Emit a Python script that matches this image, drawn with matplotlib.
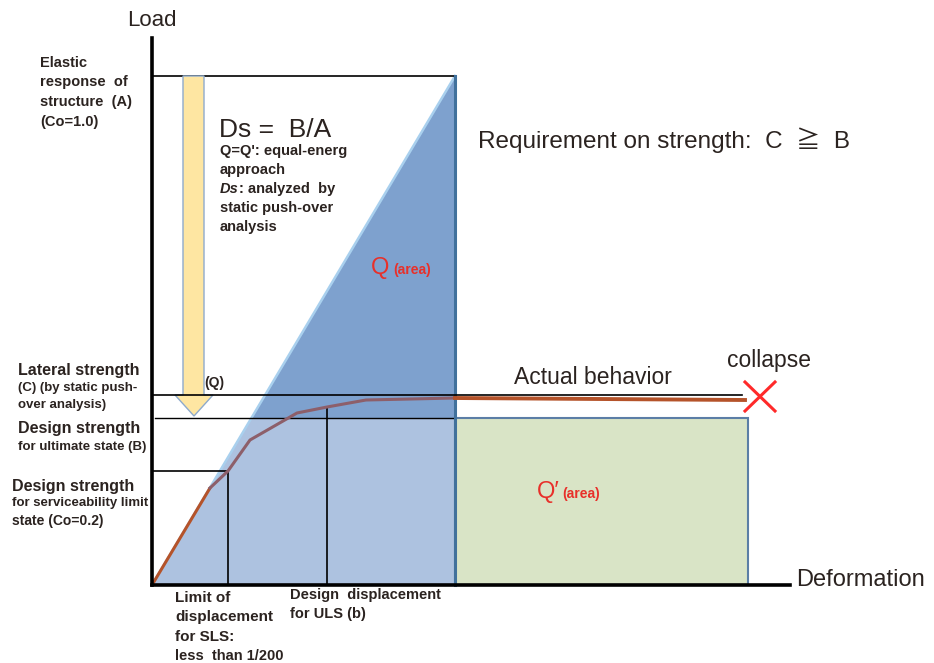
import matplotlib
matplotlib.use("Agg")
import matplotlib.pyplot as plt
from matplotlib.patches import Polygon, Rectangle

# ---- data (deformation / load units, origin at the axes corner) ----
load_A = 509          # elastic response (Co=1.0)
load_C = 190          # lateral strength by push-over
load_B = 167          # design strength for ultimate state
load_SLS = 114        # design strength for serviceability limit state
disp_elastic = 303    # deformation at elastic response A
disp_SLS = 76         # limit of displacement for SLS
disp_ULS = 175        # design displacement for ULS (b)
disp_green_end = 596  # end of Q' area
disp_collapse = 608
curve_disp = [0, 58, 76, 98, 145, 175, 214, 303]
curve_load = [0, 97, 114, 145, 172, 178, 185, 187]
plateau_disp = [303, 593]
plateau_load = [187, 185]
axis_x_end = 638
axis_y_end = 547

FONT = ['Liberation Sans', 'Noto Sans CJK JP', 'DejaVu Sans']
plt.rcParams['font.family'] = FONT

fig = plt.figure(figsize=(9.34, 6.63), dpi=100)
ax = fig.add_axes([0, 0, 1, 1])
ax.set_xlim(-152, 782)
ax.set_ylim(-78, 585)
ax.axis('off')

# Elastic triangle (dark blue)
tri = Polygon([(0, 0), (disp_elastic, load_A), (disp_elastic, 0)], closed=True,
              facecolor='#7ea1ce', edgecolor='none', zorder=1)
ax.add_patch(tri)
# light blue area below design strength B
x_at_B = disp_elastic * load_B / load_A
light = Polygon([(0, 0), (x_at_B, load_B), (disp_elastic, load_B), (disp_elastic, 0)],
                closed=True, facecolor='#adc2e0', edgecolor='none', zorder=2)
ax.add_patch(light)
# diagonal light edge
ax.plot([0, disp_elastic], [0, load_A], color='#a9d0ee', lw=1.8, zorder=3)
# box top and right edge
ax.plot([0, disp_elastic], [load_A, load_A], color='black', lw=1.2, zorder=3)
ax.plot([disp_elastic, disp_elastic], [0, load_A], color='#41719c', lw=2.2, zorder=4)

# Q' green area
green = Rectangle((disp_elastic, 0), disp_green_end - disp_elastic, load_B,
                  facecolor='#d9e4c6', edgecolor='#5b7ea6', lw=1.5, zorder=2)
ax.add_patch(green)

# horizontal reference lines
ax.plot([0, disp_collapse - 18], [load_C, load_C], color='black', lw=1.2, zorder=5)
ax.plot([3, disp_elastic], [load_B, load_B], color='black', lw=1.0, zorder=3)
ax.plot([0, disp_SLS], [load_SLS, load_SLS], color='black', lw=1.2, zorder=5)
ax.plot([disp_SLS, disp_SLS], [0, load_SLS], color='black', lw=1.2, zorder=5)
ax.plot([disp_ULS, disp_ULS], [0, 178], color='black', lw=1.2, zorder=5)

# actual behavior curve
ax.plot(curve_disp[:2], curve_load[:2], color='#b5532a', lw=2.2, zorder=6,
        solid_capstyle='round')
ax.plot(curve_disp[1:], curve_load[1:], color='#8d5f6a', lw=2.2, zorder=6)
ax.plot(plateau_disp, plateau_load, color='#b5532a', lw=2.8, zorder=6)

# collapse X
ax.plot([disp_collapse - 15, disp_collapse + 15], [load_C + 13, load_C - 16],
        color='#ff2a2a', lw=2.2, zorder=7)
ax.plot([disp_collapse - 15, disp_collapse + 15], [load_C - 16, load_C + 13],
        color='#ff2a2a', lw=2.2, zorder=7)

# yellow arrow
arrow = Polygon([(31, load_A), (52, load_A), (52, load_C), (61, load_C),
                 (42, load_B + 2), (23, load_C), (31, load_C)], closed=True,
                facecolor='#fee6a2', edgecolor='#8eaacc', lw=1.0, zorder=4)
ax.add_patch(arrow)

# axes
ax.plot([0, 0], [0, axis_y_end], color='black', lw=2.6, zorder=8)
ax.plot([0, axis_x_end], [0, 0], color='black', lw=2.6, zorder=8)

# ---- texts ----
tc = '#2b2320'
red = '#e8302a'


def T(px, py, s, size, bold=False, **kw):
    ax.text(px - 152, 585 - py, s, fontsize=size, ha=kw.pop('ha', 'left'),
            va=kw.pop('va', 'center'), color=kw.pop('color', tc),
            fontweight='bold' if bold else 'normal', **kw)


T(127, 20, 'Load', 16)
T(796, 580, 'Deformation', 17)

T(219, 130, 'Ds =  B/A', 19)
T(220, 151, "Q=Q': equal-energ", 10.5, True)
T(220, 170, "approach", 10.5, True)
T(220, 189, "Ds", 10.5, True, style='italic')
T(239, 189, ": analyzed  by", 10.5, True)
T(220, 208, "static push-over", 10.5, True)
T(220, 227, "analysis", 10.5, True)

T(478, 140, 'Requirement on strength:  C  \u2267  B', 17.5)

T(371, 268, 'Q', 17, color=red)
T(393, 270, '(area)', 10, True, color=red)
T(537, 492, 'Q\u2032', 17, color=red)
T(562, 494, '(area)', 10, True, color=red)

T(514, 377, 'Actual behavior', 16.5)
T(727, 361, 'collapse', 16.5)
T(204, 383, '(Q)', 10, True)

# left labels
T(40, 63, 'Elastic', 10.5, True)
T(40, 82, 'response  of', 10.5, True)
T(40, 102, 'structure  (A)', 10.5, True)
T(40, 122, '(Co=1.0)', 10.5, True)

T(18, 370, 'Lateral strength', 11.5, True)
T(18, 388, '(C) (by static push-', 9.5, True)
T(18, 405, 'over analysis)', 9.5, True)
T(18, 429, 'Design strength', 11.5, True)
T(18, 447, 'for ultimate state (B)', 9.5, True)
T(12, 486, 'Design strength', 11.5, True)
T(12, 503, 'for serviceability limit', 9.5, True)
T(12, 521, 'state (Co=0.2)', 10, True)

# bottom labels
T(175, 598, 'Limit of', 11, True)
T(175, 617, 'displacement', 11, True)
T(175, 637, 'for SLS:', 11, True)
T(175, 656, 'less  than 1/200', 10.5, True)
T(290, 595, 'Design  displacement', 10.5, True)
T(290, 614, 'for ULS (b)', 10.5, True)

fig.savefig('out.png', dpi=100)
